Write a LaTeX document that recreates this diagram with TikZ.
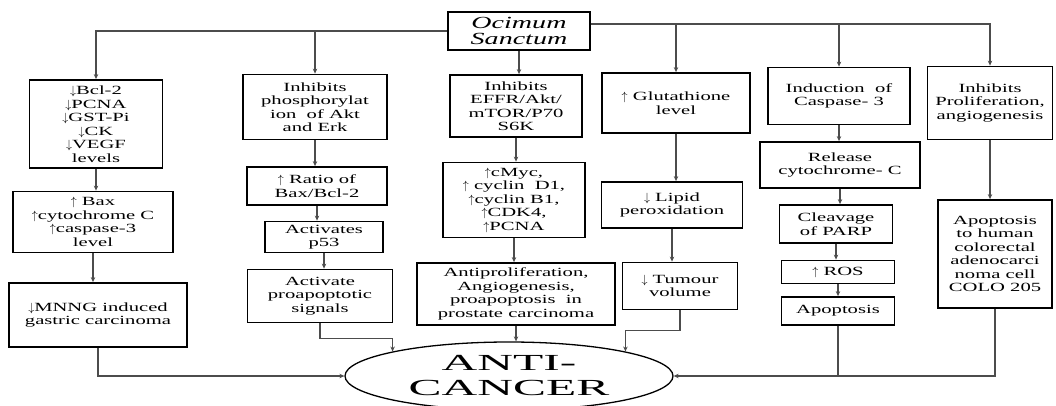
\documentclass[tikz,border=0pt]{standalone}
\usepackage{fontspec}
\setmainfont{Liberation Serif}[FakeStretch=1.65]
\newfontfamily\widefont{Liberation Serif}[FakeStretch=2.15]
\usepackage{tikz}
\usetikzlibrary{arrows.meta,shapes.geometric}

\begin{document}
\begin{tikzpicture}[x=1pt, y=-1pt,
		bx/.style={draw, line width=1.8pt, align=center, inner sep=1pt, font=\fontsize{12.5}{13.5}\selectfont},
		ln/.style={draw=black!70, line width=1.1pt},
		arr/.style={ln, -{Stealth[length=5pt, width=4.5pt]}}]
				
				\useasboundingbox (0,0) rectangle (1056,406);
				
				\node [bx, minimum width=142pt, minimum height=38pt, font=\fontsize{17}{16}\selectfont\itshape] (oc) at (519, 31) {Ocimum\\Sanctum};
				
				\node [bx, minimum width=133pt, minimum height=88pt] (bcl) at (96, 124) {$\downarrow$Bcl-2\\$\downarrow$PCNA\\$\downarrow$GST-Pi\\$\downarrow$CK\\$\downarrow$VEGF\\levels};
				\node [bx, minimum width=160pt, minimum height=61pt] (bax) at (93, 222) {$\uparrow$ Bax\\$\uparrow$cytochrome C\\$\uparrow$caspase-3\\level};
				\node [bx, minimum width=178pt, minimum height=64pt] (mnng) at (98, 315) {$\downarrow$MNNG induced\\gastric carcinoma};
				
				\node [bx, minimum width=144pt, minimum height=65pt] (akt) at (315, 107) {Inhibits\\phosphorylat\\ion\ \ of Akt\\and Erk};
				\node [bx, minimum width=140pt, minimum height=38pt] (ratio) at (317, 186) {$\uparrow$ Ratio of\\Bax/Bcl-2};
				\node [bx, minimum width=118pt, minimum height=31pt] (p53) at (324, 237) {Activates\\p53};
				\node [bx, minimum width=145pt, minimum height=53pt] (signals) at (320, 296) {Activate\\proapoptotic\\signals};
				
				\node [bx, minimum width=132pt, minimum height=62pt] (effr) at (516, 106) {Inhibits\\EFFR/Akt/\\mTOR/P70\\S6K};
				\node [bx, minimum width=142pt, minimum height=75pt] (cmyc) at (514, 200) {$\uparrow$cMyc,\\$\uparrow$ cyclin\ \ D1,\\$\uparrow$cyclin B1,\\$\uparrow$CDK4,\\$\uparrow$PCNA};
				\node [bx, minimum width=198pt, minimum height=62pt] (prostate) at (516, 294) {Antiproliferation,\\Angiogenesis,\\proapoptosis\ \ in\\prostate carcinoma};
				
				\node [bx, minimum width=148pt, minimum height=60pt] (glut) at (676, 103) {$\uparrow$ Glutathione\\level};
				\node [bx, minimum width=141pt, minimum height=46pt] (lipid) at (672, 205) {$\downarrow$ Lipid\\peroxidation};
				\node [bx, minimum width=115pt, minimum height=47pt] (tumour) at (680, 286) {$\downarrow$ Tumour\\volume};
				
				\node [bx, minimum width=142pt, minimum height=57pt] (casp) at (839, 96) {Induction\ \ of\\Caspase- 3};
				\node [bx, minimum width=160pt, minimum height=46pt] (cytc) at (840, 165) {Release\\cytochrome- C};
				\node [bx, minimum width=113pt, minimum height=38pt] (parp) at (836, 224) {Cleavage\\of PARP};
				\node [bx, minimum width=113pt, minimum height=23pt] (ros) at (838, 272) {$\uparrow$ ROS};
				\node [bx, minimum width=113pt, minimum height=28pt] (apop) at (838, 311) {Apoptosis};
				
				\node [bx, minimum width=125pt, minimum height=73pt] (prolif) at (990, 103) {Inhibits\\Proliferation,\\angiogenesis};
				\node [bx, minimum width=114pt, minimum height=108pt] (colo) at (995, 254) {Apoptosis\\to human\\colorectal\\adenocarci\\noma cell\\COLO 205};
				
				\node [ellipse, draw, line width=1.3pt, minimum width=328pt, minimum height=68pt, inner sep=0pt, align=center, font=\widefont\fontsize{23}{25}\selectfont] (ac) at (509, 376) {ANTI-\\CANCER};
				
				\draw [arr] (oc.west) -| (bcl.north);
				\draw [arr] (oc.west) -| (akt.north);
				\draw [arr] (oc.south) -- (oc.south |- effr.north);
				\draw [arr] ([yshift=7pt]oc.east) -| (glut.north);
				\draw [arr] ([yshift=7pt]oc.east) -| (casp.north);
				\draw [arr] ([yshift=7pt]oc.east) -| (prolif.north);
				
				\draw [arr] (bcl.south) -- (bcl.south |- bax.north);
				\draw [arr] (bax.south) -- (bax.south |- mnng.north);
				\draw [arr] (akt.south) -- (akt.south |- ratio.north);
				\draw [arr] (ratio.south) -- (ratio.south |- p53.north);
				\draw [arr] (p53.south) -- (p53.south |- signals.north);
				\draw [arr] (effr.south) -- (effr.south |- cmyc.north);
				\draw [arr] (cmyc.south) -- (cmyc.south |- prostate.north);
				\draw [arr] (glut.south) -- (glut.south |- lipid.north);
				\draw [arr] (lipid.south) -- (lipid.south |- tumour.north);
				\draw [arr] (casp.south) -- (casp.south |- cytc.north);
				\draw [arr] (cytc.south) -- (cytc.south |- parp.north);
				\draw [arr] (parp.south) -- (parp.south |- ros.north);
				\draw [arr] (ros.south) -- (ros.south |- apop.north);
				\draw [arr] (prolif.south) -- (prolif.south |- colo.north);
				
				\draw [arr] (mnng.south) |- (ac.west);
				\draw [arr] (signals.south) -- ++(0,15) -| (ac.north west);
				\draw [arr] (prostate.south) -- (prostate.south |- ac.north);
				\draw [arr] (tumour.south) -- ++(0,20) -| (ac.north east);
				\draw [arr] (colo.south) |- (ac.east);
				\draw [ln] (apop.south) -- (apop.south |- ac.east);
				
			\end{tikzpicture}
\end{document}
